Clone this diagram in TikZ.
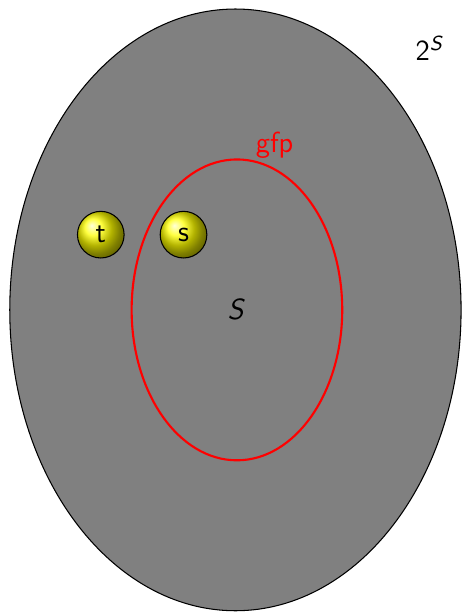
\documentclass[tikz,border=0pt]{standalone}
\usepackage{xcolor}
\usepackage{tikz}
\usetikzlibrary{positioning}
\renewcommand{\familydefault}{\sfdefault}

\tikzset{
  elem/.style={circle, draw=black, ball color=yellow, minimum size=0.62cm, inner sep=0pt, font=\fontsize{11}{13}\selectfont},
}

\begin{document}
\begin{tikzpicture}[x=1cm, y=1cm, every node/.style={font=\fontsize{11}{13}\selectfont}]

\useasboundingbox (-3.13,-4.03) rectangle (3.03,4.12);

% Power set
\filldraw[fill=gray, draw=black] (0,0) ellipse (3cm and 4cm);
\node (pow) at (2.58,3.48) {2\textsuperscript{\itshape S}};

% Greatest fixed point
\draw[red, thick] (0.02,0) ellipse (1.4cm and 2cm);
\node[red] (gfp) at (0.52,2.19) {gfp};
\node (set) at (0,0) {\itshape S};

% Elements
\node[elem] (t) at (-1.79,1.0) {t};
\node[elem] (s) at (-0.69,1.0) {s};

\end{tikzpicture}
\end{document}
